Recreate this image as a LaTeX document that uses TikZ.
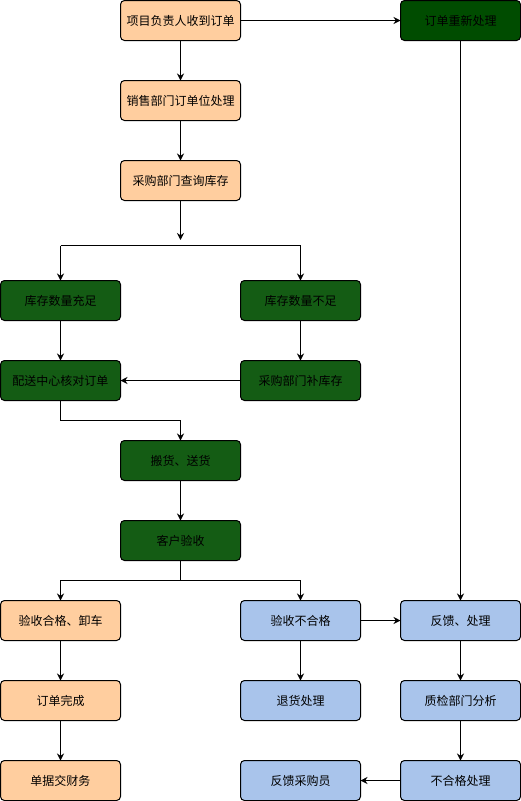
\documentclass[tikz,border=0pt]{standalone}
\usepackage{fontspec}
\setmainfont{Noto Sans CJK SC}
\usetikzlibrary{arrows.meta}
\definecolor{orangefill}{HTML}{FFCE9F}
\definecolor{bluefill}{HTML}{A9C4EB}
\definecolor{greenfill}{HTML}{145C14}
\definecolor{darkgreenfill}{HTML}{004C00}
\tikzset{
  box/.style={draw=black, line width=1pt, rounded corners=4pt, minimum width=120pt, minimum height=40pt, inner sep=0pt, outer sep=0pt, font=\fontsize{12pt}{14pt}\selectfont, text=black},
  obox/.style={box, fill=orangefill},
  bbox/.style={box, fill=bluefill},
  gbox/.style={box, fill=greenfill},
  dgbox/.style={box, fill=darkgreenfill},
  arr/.style={line width=1pt, -{Stealth[length=7pt,width=7pt]}},
  ln/.style={line width=1pt}
}
\begin{document}
\begin{tikzpicture}[x=1pt,y=-1pt]
\useasboundingbox (0,0) rectangle (521,801);
% column centers: 60.5, 180.5, 300.5, 460.5
\node[obox] (a) at (180.5,20.5) {项目负责人收到订单};
\node[dgbox] (r) at (460.5,20.5) {订单重新处理};
\node[obox] (b) at (180.5,100.5) {销售部门订单位处理};
\node[obox] (c) at (180.5,180.5) {采购部门查询库存};
\node[gbox] (s1) at (60.5,300.5) {库存数量充足};
\node[gbox] (s2) at (300.5,300.5) {库存数量不足};
\node[gbox] (ps) at (60.5,380.5) {配送中心核对订单};
\node[gbox] (bk) at (300.5,380.5) {采购部门补库存};
\node[gbox] (bh) at (180.5,460.5) {搬货、送货};
\node[gbox] (kh) at (180.5,540.5) {客户验收};
\node[obox] (ok) at (60.5,620.5) {验收合格、卸车};
\node[bbox] (ng) at (300.5,620.5) {验收不合格};
\node[bbox] (fk) at (460.5,620.5) {反馈、处理};
\node[obox] (wc) at (60.5,700.5) {订单完成};
\node[bbox] (th) at (300.5,700.5) {退货处理};
\node[bbox] (zj) at (460.5,700.5) {质检部门分析};
\node[obox] (dj) at (60.5,780.5) {单据交财务};
\node[bbox] (fc) at (300.5,780.5) {反馈采购员};
\node[bbox] (bh2) at (460.5,780.5) {不合格处理};

\coordinate (j1) at (180.5,240);
\coordinate (l1) at (60.5,245.5);
\coordinate (l2) at (300.5,245.5);
\coordinate (j2) at (180.5,580.5);

\draw[arr] (a) -- (r);
\draw[arr] (a) -- (b);
\draw[arr] (b) -- (c);
\draw[arr] (c) -- (j1);
\draw[ln] (l1) -- (l2);
\draw[arr] (l1) -- (s1);
\draw[arr] (l2) -- (s2);
\draw[arr] (s1) -- (ps);
\draw[arr] (s2) -- (bk);
\draw[arr] (bk) -- (ps);
\draw[arr] (ps.south) -- ++(0,20) -| (bh.north);
\draw[arr] (bh) -- (kh);
\draw[ln] (kh.south) -- (j2);
\draw[arr] (j2) -| (ok.north);
\draw[arr] (j2) -| (ng.north);
\draw[arr] (r) -- (fk);
\draw[arr] (ng) -- (fk);
\draw[arr] (ok) -- (wc);
\draw[arr] (wc) -- (dj);
\draw[arr] (ng) -- (th);
\draw[arr] (fk) -- (zj);
\draw[arr] (zj) -- (bh2);
\draw[arr] (bh2) -- (fc);
\end{tikzpicture}
\end{document}
